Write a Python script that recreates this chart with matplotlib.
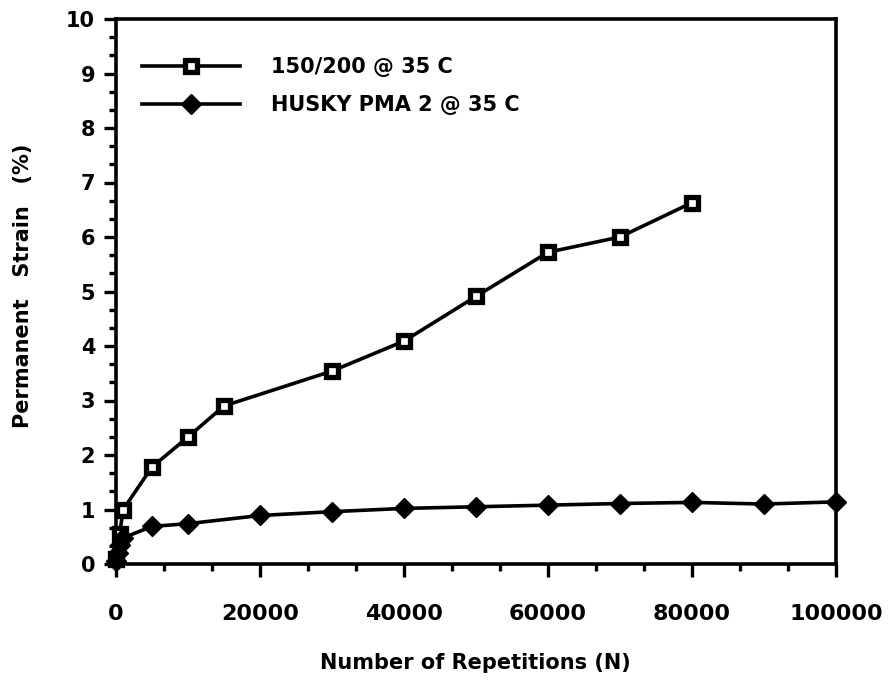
import matplotlib
matplotlib.use('Agg')
import matplotlib.pyplot as plt
from matplotlib.ticker import MultipleLocator

# Data
repsAsphalt = [0, 500, 1000, 5000, 10000, 15000, 30000, 40000, 50000, 60000, 70000, 80000]
strainAsphalt = [0.1, 0.55, 1.0, 1.78, 2.33, 2.9, 3.54, 4.09, 4.91, 5.72, 6.0, 6.63]

repsHusky = [0, 250, 500, 1000, 5000, 10000, 20000, 30000, 40000, 50000,
             60000, 70000, 80000, 90000, 100000]
strainHusky = [0.05, 0.2, 0.35, 0.48, 0.69, 0.74, 0.89, 0.96, 1.02, 1.05,
               1.08, 1.11, 1.13, 1.1, 1.14]

labelAsphalt = '150/200 @ 35 C'
labelHusky = 'HUSKY PMA 2 @ 35 C'
xTicks = [0, 20000, 40000, 60000, 80000, 100000]
yTicks = list(range(0, 11))

plt.rcParams['font.family'] = ['DejaVu Sans']
plt.rcParams['font.weight'] = 'bold'

fig = plt.figure(figsize=(8.88, 6.83), dpi=100)
ax = fig.add_axes([116 / 888, 1 - 564 / 683, 720 / 888, 545 / 683])

ax.plot(repsAsphalt, strainAsphalt, color='black', linewidth=2.6,
        marker='s', markersize=9, markerfacecolor='white',
        markeredgecolor='black', markeredgewidth=3.8, label=labelAsphalt,
        clip_on=False, zorder=3)
ax.plot(repsHusky, strainHusky, color='black', linewidth=2.6,
        marker='D', markersize=10, markerfacecolor='black',
        markeredgecolor='black', label=labelHusky, clip_on=False, zorder=3)

ax.set_xlim(0, 100000)
ax.set_ylim(0, 10)
ax.set_xticks(xTicks)
ax.set_yticks(yTicks)
ax.xaxis.set_minor_locator(MultipleLocator(20000 / 3))
ax.yaxis.set_minor_locator(MultipleLocator(1 / 3))

for s in ax.spines.values():
    s.set_linewidth(2.6)

ax.tick_params(which='major', direction='out', length=9, width=2.4)
ax.tick_params(which='minor', direction='out', length=5, width=2.4)
ax.tick_params(axis='x', which='major', labelsize=16, pad=20)
ax.tick_params(axis='y', which='major', labelsize=15, pad=6)
for lab in ax.get_xticklabels() + ax.get_yticklabels():
    lab.set_fontweight('bold')

ax.set_xlabel('Number of Repetitions (N)', fontsize=15, fontweight='bold')
ax.xaxis.set_label_coords(0.499, -0.163)
ax.set_ylabel('Permanent   Strain   (%)', fontsize=15, fontweight='bold')
ax.yaxis.set_label_coords(-0.115, 0.51)

leg = ax.legend(loc='upper left', bbox_to_anchor=(0.036, 0.93), frameon=False,
                handlelength=4.7, handletextpad=1.5, labelspacing=0.85,
                borderpad=0, borderaxespad=0, numpoints=1,
                prop={'size': 15, 'weight': 'bold'})

fig.savefig('out.png', dpi=100)
